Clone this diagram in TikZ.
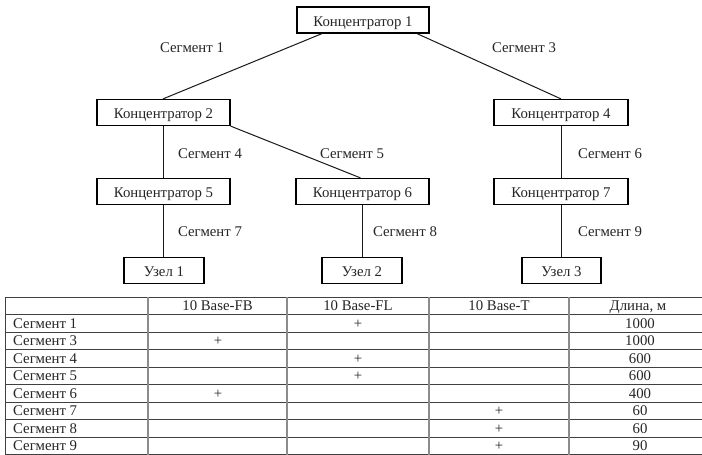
\documentclass[tikz,border=0pt]{standalone}
\usepackage{fontspec}
\setmainfont{Liberation Serif}
\begin{document}
\begin{tikzpicture}[x=1pt,y=-1pt,
  box/.style={draw=black,line width=1.2pt,minimum height=26pt,inner sep=0pt,text height=12.5pt,text depth=0pt,font=\fontsize{14.8}{16}\selectfont,text=black!85},
  lbl/.style={inner sep=0pt,font=\fontsize{14.8}{16}\selectfont,text=black!85},
  cell/.style={inner sep=0pt,anchor=base,font=\fontsize{14.8}{16}\selectfont,text=black!85},
  link/.style={draw=black!90,line width=1pt},
  hrule/.style={draw=black!75,line width=0.9pt},
  vrule/.style={draw=black!45,line width=1.6pt}]
\useasboundingbox (0,0) rectangle (702,455);
\fill[white] (0,0) rectangle (702,455);
% tree nodes
\node[box,minimum width=132pt] (k1) at (363,20) {Концентратор 1};
\node[box,minimum width=133pt] (k2) at (163.5,112.5) {Концентратор 2};
\node[box,minimum width=134pt] (k4) at (561,112.5) {Концентратор 4};
\node[box,minimum width=133pt] (k5) at (163.5,191.5) {Концентратор 5};
\node[box,minimum width=133pt] (k6) at (362.5,191.5) {Концентратор 6};
\node[box,minimum width=134pt] (k7) at (561,191.5) {Концентратор 7};
\node[box,minimum width=80pt] (u1) at (164,270.5) {Узел 1};
\node[box,minimum width=80pt] (u2) at (362,270.5) {Узел 2};
\node[box,minimum width=79pt] (u3) at (561.5,270.5) {Узел 3};
% connectors
\draw[link] ([xshift=-41pt]k1.south) -- ([xshift=-0.5pt]k2.north);
\draw[link] ([xshift=54pt]k1.south) -- (k4.north);
\draw[link] (k2.south east) -- ([xshift=-2pt]k6.north);
\draw[link] (k2.south) -- (k5.north);
\draw[link] (k5.south) -- ([xshift=-0.5pt]u1.north);
\draw[link] (k6.south) -- ([xshift=0.5pt]u2.north);
\draw[link] (k4.south) -- (k7.north);
\draw[link] (k7.south) -- ([xshift=-0.5pt]u3.north);
% segment labels
\node[lbl] (s1) at (192,48) {Сегмент 1};
\node[lbl] (s3) at (524,48) {Сегмент 3};
\node[lbl] (s4) at (210,154) {Сегмент 4};
\node[lbl] (s5) at (352,154) {Сегмент 5};
\node[lbl] (s6) at (610,154) {Сегмент 6};
\node[lbl] (s7) at (210,232) {Сегмент 7};
\node[lbl] (s8) at (405,232) {Сегмент 8};
\node[lbl] (s9) at (610,232) {Сегмент 9};
% table
\foreach \i in {0,...,8} {
  \draw[hrule] (5,{297+17.5*\i}) -- (712,{297+17.5*\i});
}
\draw[hrule] (5,454) -- (712,454);
\draw[hrule] (5,297) -- (5,454.5);
\foreach \x in {148,287,429,569} {
  \draw[vrule] (\x,297) -- (\x,454.5);
}
% header (baselines)
\node[cell] (h1) at (217.5,310.5) {10 Base-FB};
\node[cell] (h2) at (358,310.5) {10 Base-FL};
\node[cell] (h3) at (499,310.5) {10 Base-T};
\node[cell] (h4) at (638,310.5) {Длина, м};
% rows
\foreach \n/\len [count=\r] in {1/1000,3/1000,4/600,5/600,6/400,7/60,8/60,9/90} {
  \node[cell,anchor=base west] (r\r) at (13,{310.5+17.5*\r}) {Сегмент \n};
  \node[cell] (l\r) at (640,{310.5+17.5*\r}) {\len};
}
\node[cell] (p1) at (358,328) {+};
\node[cell] (p2) at (218,345.5) {+};
\node[cell] (p3) at (358,363) {+};
\node[cell] (p4) at (358,380.5) {+};
\node[cell] (p5) at (218,398) {+};
\node[cell] (p6) at (499,415.5) {+};
\node[cell] (p7) at (499,433) {+};
\node[cell] (p8) at (499,450.5) {+};
\end{tikzpicture}
\end{document}
